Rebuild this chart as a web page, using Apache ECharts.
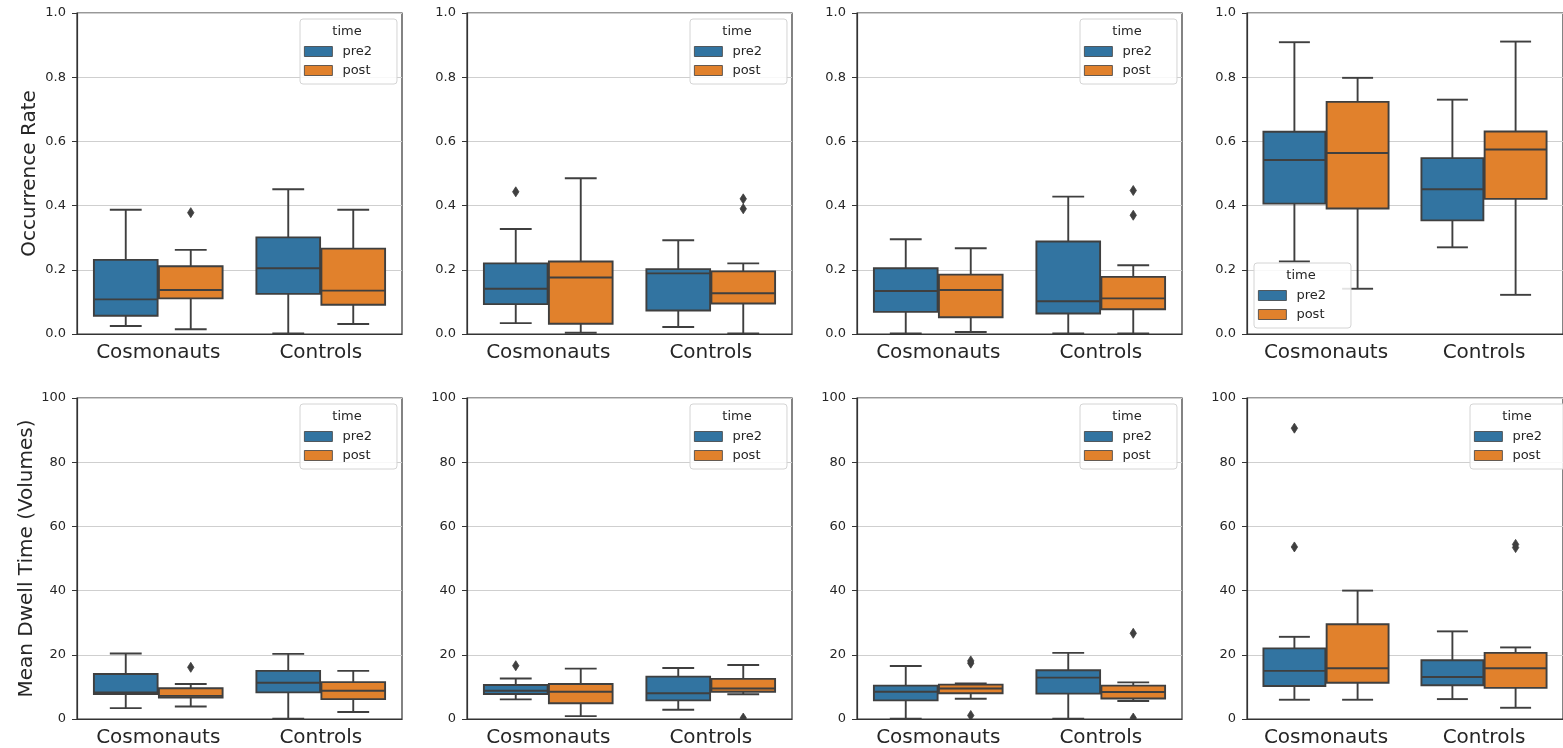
<!DOCTYPE html>
<html>
<head>
<meta charset="utf-8">
<script src="https://cdn.jsdelivr.net/npm/echarts@6/dist/echarts.min.js"></script>
<style>
  html, body { margin: 0; padding: 0; background: #ffffff; }
  #chart { width: 1563px; height: 748px; }
</style>
</head>
<body>
<div id="chart"></div>
<script>
// ---- data ---------------------------------------------------------------
const categories = ['Cosmonauts', 'Controls'];
const timePoints = ['pre2', 'post'];
const rowLabels = ['Occurrence Rate', 'Mean Dwell Time (Volumes)'];
const rowRanges = [[0, 1, 0.2], [0, 100, 20]];   // min, max, tick step

// Box statistics per panel: [lower whisker, Q1, median, Q3, upper whisker]
// indexed [panel][category]
const ratePre2 = [
  [[0.025, 0.057, 0.108, 0.231, 0.387], [0.002, 0.125, 0.205, 0.301, 0.451]],
  [[0.034, 0.093, 0.141, 0.220, 0.327], [0.022, 0.073, 0.189, 0.202, 0.292]],
  [[0.002, 0.069, 0.134, 0.205, 0.295], [0.002, 0.064, 0.102, 0.288, 0.428]],
  [[0.226, 0.406, 0.542, 0.630, 0.909], [0.270, 0.354, 0.451, 0.548, 0.730]]
];
const ratePost = [
  [[0.015, 0.111, 0.137, 0.211, 0.262], [0.031, 0.091, 0.135, 0.266, 0.387]],
  [[0.004, 0.032, 0.176, 0.226, 0.485], [0.002, 0.095, 0.127, 0.195, 0.220]],
  [[0.006, 0.052, 0.137, 0.185, 0.267], [0.002, 0.077, 0.111, 0.178, 0.214]],
  [[0.141, 0.391, 0.564, 0.723, 0.798], [0.122, 0.421, 0.575, 0.631, 0.911]]
];
const dwellPre2 = [
  [[3.4, 7.8, 8.3, 14.0, 20.4], [0.1, 8.3, 11.3, 15.0, 20.3]],
  [[6.1, 7.8, 8.8, 10.6, 12.6], [2.9, 5.8, 8.0, 13.2, 15.9]],
  [[0.1, 5.8, 8.5, 10.4, 16.5], [0.1, 7.9, 12.9, 15.2, 20.6]],
  [[6.0, 10.3, 15.0, 22.0, 25.6], [6.2, 10.5, 13.1, 18.3, 27.3]]
];
const dwellPost = [
  [[3.9, 6.7, 7.2, 9.6, 10.9], [2.2, 6.2, 8.8, 11.5, 15.0]],
  [[0.9, 4.9, 8.5, 10.9, 15.7], [7.7, 8.5, 9.5, 12.5, 16.8]],
  [[6.3, 8.0, 9.5, 10.7, 11.1], [5.6, 6.4, 8.4, 10.4, 11.4]],
  [[6.0, 11.3, 15.8, 29.5, 40.0], [3.5, 9.7, 15.8, 20.6, 22.3]]
];

// Outlying points, indexed [panel][category]
const rateOutPre2 = [[[], []], [[0.443], []], [[], []], [[], []]];
const rateOutPost = [[[0.378], []], [[], [0.421, 0.390]], [[], [0.447, 0.370]], [[], []]];
const dwellOutPre2 = [[[], []], [[16.6], []], [[], []], [[90.6, 53.6], []]];
const dwellOutPost = [[[16.1], []], [[], [0.3]], [[17.4, 18.1, 1.1], [26.7, 0.3]], [[], [54.4, 53.4]]];

// ---- styling / layout -----------------------------------------------------
const FONT = 'DejaVu Sans';
const COLORS = { pre2: '#3274a1', post: '#e1812c' };
const EDGE = '#3f3f3f';
const BOX_FRAC = 0.392;          // width of a single box as a share of the band
const HUE_OFFSET = { pre2: -0.2, post: 0.2 };
const gridLefts = [77, 467, 857, 1247];
const gridTops = [13, 398];
const GRID_W = 325, GRID_H = 321;

function boxRenderer(offset) {
  return function (params, api) {
    const ci = api.value(0);
    const band = api.size([1, 0])[0];
    const cx = api.coord([ci, 0])[0] + offset * band;
    const half = band * BOX_FRAC / 2;
    const cap = half / 2;
    const y = i => api.coord([ci, api.value(i)])[1];
    const yLo = y(1), yQ1 = y(2), yMed = y(3), yQ3 = y(4), yHi = y(5);
    const line = { stroke: EDGE, lineWidth: 1.9 };
    return {
      type: 'group',
      children: [
        { type: 'line', shape: { x1: cx, y1: yQ1, x2: cx, y2: yLo }, style: line },
        { type: 'line', shape: { x1: cx, y1: yQ3, x2: cx, y2: yHi }, style: line },
        { type: 'line', shape: { x1: cx - cap, y1: yLo, x2: cx + cap, y2: yLo }, style: line },
        { type: 'line', shape: { x1: cx - cap, y1: yHi, x2: cx + cap, y2: yHi }, style: line },
        { type: 'rect', shape: { x: cx - half, y: yQ3, width: half * 2, height: yQ1 - yQ3 },
          style: { fill: api.visual('color'), stroke: EDGE, lineWidth: 1.9 } },
        { type: 'line', shape: { x1: cx - half, y1: yMed, x2: cx + half, y2: yMed }, style: line }
      ]
    };
  };
}

function outlierRenderer(offset) {
  return function (params, api) {
    const ci = api.value(0);
    const band = api.size([1, 0])[0];
    const p = api.coord([ci, api.value(1)]);
    const cx = p[0] + offset * band, cy = p[1];
    return {
      type: 'polygon',
      shape: { points: [[cx, cy - 5], [cx + 3.2, cy], [cx, cy + 5], [cx - 3.2, cy]] },
      style: { fill: EDGE, stroke: EDGE, lineWidth: 0.8 }
    };
  };
}

const grids = [], xAxes = [], yAxes = [], series = [], legends = [], texts = [];
const statsByRow = [[ratePre2, ratePost], [dwellPre2, dwellPost]];
const outByRow = [[rateOutPre2, rateOutPost], [dwellOutPre2, dwellOutPost]];

for (let r = 0; r < 2; r++) {
  for (let c = 0; c < 4; c++) {
    const g = r * 4 + c;
    const left = gridLefts[c], top = gridTops[r];
    grids.push({
      left: left, top: top, width: GRID_W, height: GRID_H,
      show: true, borderColor: '#333333', borderWidth: 1.2, backgroundColor: 'transparent'
    });
    xAxes.push({
      type: 'category', gridIndex: g, data: categories,
      axisLine: { lineStyle: { color: '#333333', width: 1.2 } },
      axisTick: { alignWithLabel: true, length: 5, lineStyle: { color: '#333333' } },
      axisLabel: { fontFamily: FONT, fontSize: 20, color: '#262626', margin: 9, interval: 0 },
      splitLine: { show: false }
    });
    const [mn, mx, step] = rowRanges[r];
    yAxes.push({
      type: 'value', gridIndex: g, min: mn, max: mx, interval: step,
      name: c === 0 ? rowLabels[r] : '',
      nameLocation: 'middle', nameGap: 37,
      nameTextStyle: { fontFamily: FONT, fontSize: 20, color: '#262626' },
      axisLine: { show: true, lineStyle: { color: '#333333', width: 1.2 } },
      axisTick: { show: true, length: 5, lineStyle: { color: '#333333' } },
      axisLabel: {
        fontFamily: FONT, fontSize: 13, color: '#262626', margin: 11,
        formatter: v => r === 0 ? v.toFixed(1) : String(v)
      },
      splitLine: { show: true, lineStyle: { color: '#cfcfcf', width: 1 } }
    });

    timePoints.forEach((tp, h) => {
      const stats = statsByRow[r][h][c];
      series.push({
        name: tp, type: 'custom', xAxisIndex: g, yAxisIndex: g,
        itemStyle: { color: COLORS[tp] },
        renderItem: boxRenderer(HUE_OFFSET[tp]),
        data: stats.map((s, ci) => [ci].concat(s)),
        z: 3
      });
      const outs = [];
      outByRow[r][h][c].forEach((vals, ci) => vals.forEach(v => outs.push([ci, v])));
      if (outs.length) {
        series.push({
          name: tp + ' outliers', type: 'custom', xAxisIndex: g, yAxisIndex: g,
          itemStyle: { color: EDGE }, clip: true,
          renderItem: outlierRenderer(HUE_OFFSET[tp]),
          data: outs, z: 4
        });
      }
    });

    // legend placement inside the panel
    const lowerLeft = (r === 0 && c === 3);
    const lx = lowerLeft ? left + 7 : left + 223;
    const ly = lowerLeft ? top + 250 : top + 6;
    legends.push({
      orient: 'vertical', left: lx, top: ly,
      padding: [25, 25, 6, 4], itemGap: 4,
      itemWidth: 28, itemHeight: 10, icon: 'rect',
      backgroundColor: 'rgba(255,255,255,0.85)', borderColor: '#d4d4d4', borderWidth: 1, borderRadius: 3,
      textStyle: { fontFamily: FONT, fontSize: 13, color: '#262626', lineHeight: 15, padding: [0, 0, 0, 5] },
      selectedMode: false,
      data: timePoints.map(tp => ({
        name: tp, itemStyle: { color: COLORS[tp], borderColor: EDGE, borderWidth: 0.8 }
      })),
      z: 10
    });
    texts.push({
      type: 'text', z: 20, x: lx + 47, y: ly + 13,
      style: { text: 'time', fontFamily: FONT, fontSize: 13, fill: '#262626',
               textAlign: 'center', textVerticalAlign: 'middle' }
    });
  }
}

const chart = echarts.init(document.getElementById('chart'), null, { renderer: 'canvas' });
chart.setOption({
  animation: false,
  backgroundColor: '#ffffff',
  grid: grids,
  xAxis: xAxes,
  yAxis: yAxes,
  legend: legends,
  graphic: texts,
  series: series
});
</script>
</body>
</html>
